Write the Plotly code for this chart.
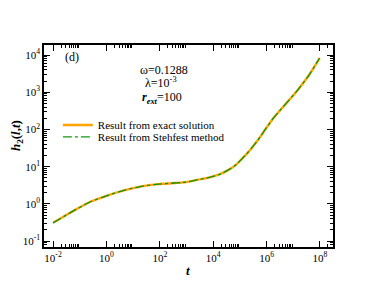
import plotly.graph_objects as go

# data
log_t = [-2.0, -1.5, -1.19, -0.56, 0.06, 0.69, 1.31, 1.94, 2.56, 2.81, 3.18,
         3.43, 3.75, 4.06, 4.30, 4.49, 4.68, 4.87, 5.05, 5.24, 5.43, 5.62,
         5.80, 5.99, 6.24, 6.55, 6.87, 7.18, 7.60, 7.99]
log_h = [-0.51, -0.30, -0.17, 0.07, 0.23, 0.37, 0.47, 0.53, 0.56, 0.57, 0.61,
         0.65, 0.69, 0.75, 0.81, 0.88, 0.96, 1.06, 1.19, 1.33, 1.49, 1.66,
         1.84, 2.04, 2.29, 2.55, 2.81, 3.07, 3.47, 3.92]
t_vals = [10 ** v for v in log_t]
h_exact = [10 ** v for v in log_h]
h_stehfest = list(h_exact)

x_major = [1e-2, 1e0, 1e2, 1e4, 1e6, 1e8]
x_labels = ["10<sup>-2</sup>", "10<sup>0</sup>", "10<sup>2</sup>",
            "10<sup>4</sup>", "10<sup>6</sup>", "10<sup>8</sup>"]
y_major = [1e-1, 1e0, 1e1, 1e2, 1e3, 1e4]
y_labels = ["10<sup>-1</sup>", "10<sup>0</sup>", "10<sup>1</sup>",
            "10<sup>2</sup>", "10<sup>3</sup>", "10<sup>4</sup>"]

x_minor = [m * 10.0 ** e for e in [-2, 0, 2, 4, 6, 8] for m in range(2, 10)]
y_minor = [m * 10.0 ** e for e in [-2, -1, 0, 1, 2, 3, 4] for m in range(2, 10)]

FONT = "Liberation Serif"

fig = go.Figure()
fig.add_trace(go.Scatter(x=t_vals, y=h_exact, mode="lines",
                         line=dict(color="#FFA500", width=2.4, shape="spline", smoothing=0.5),
                         name="Result from exact solution", legend="legend"))
fig.add_trace(go.Scatter(x=t_vals, y=h_stehfest, mode="lines",
                         line=dict(color="#129612", width=1.3, dash="dashdot",
                                   shape="spline", smoothing=0.5),
                         name="Result from Stehfest method", legend="legend2"))

axis_common = dict(type="log", showgrid=False, zeroline=False, showline=True,
                   linecolor="black", linewidth=1.5, mirror="ticks",
                   ticks="inside", ticklen=6, tickwidth=1.2, tickcolor="black",
                   tickfont=dict(family=FONT, size=11, color="black"))

fig.update_xaxes(**axis_common, range=[-2.34, 8.49], tickmode="array",
                 tickvals=x_major, ticktext=x_labels,
                 minor=dict(tickmode="array", tickvals=x_minor, ticklen=3,
                            ticks="inside", tickcolor="black", tickwidth=1))
fig.update_yaxes(**axis_common, range=[-1.16, 4.27], tickmode="array",
                 tickvals=y_major, ticktext=y_labels,
                 minor=dict(tickmode="array", tickvals=y_minor, ticklen=3,
                            ticks="inside", tickcolor="black", tickwidth=1))

annots = [
    dict(x=0.066, y=0.94, text="(d)", xanchor="left"),
    dict(x=0.415, y=0.876, text="ω=0.1288", xanchor="center"),
    dict(x=0.405, y=0.812, text="λ=10<sup>-3</sup>", xanchor="center"),
    dict(x=0.41, y=0.74, text="<b><i>r</i></b><sub><b><i>ext</i></b></sub>=100", xanchor="center"),
]
for a in annots:
    fig.add_annotation(xref="paper", yref="paper", showarrow=False, yanchor="middle",
                       font=dict(family=FONT, size=12, color="black"), **a)

# axis titles
fig.add_annotation(xref="paper", yref="paper", x=0.498, y=-0.114, showarrow=False,
                   xanchor="center", yanchor="middle", text="<b><i>t</i></b>",
                   font=dict(family=FONT, size=13, color="black"))
fig.add_annotation(xref="paper", yref="paper", x=-0.097, y=0.554, showarrow=False,
                   xanchor="center", yanchor="middle", textangle=-90,
                   text="<b><i>h</i><sub>2</sub>(<i>l</i>,<i>t</i>)</b>",
                   font=dict(family=FONT, size=13, color="black"))

leg_common = dict(xanchor="left", yanchor="middle", bgcolor="rgba(0,0,0,0)",
                  font=dict(family=FONT, size=11, color="black"), itemwidth=30)
fig.update_layout(
    width=366, height=281,
    margin=dict(l=36, r=41, t=37, b=42),
    paper_bgcolor="white", plot_bgcolor="white",
    showlegend=True,
    legend=dict(x=0.048, y=0.604, **leg_common),
    legend2=dict(x=0.048, y=0.545, **leg_common),
)

fig.write_html("out.html")
